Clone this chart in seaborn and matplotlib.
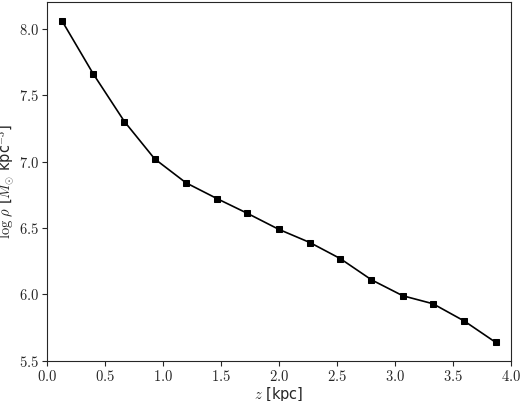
import matplotlib
matplotlib.use("Agg")
import matplotlib.pyplot as plt
from matplotlib.ticker import FuncFormatter, MultipleLocator
import seaborn as sns
import pandas as pd

z_kpc = [0.13, 0.40, 0.67, 0.93, 1.20, 1.47, 1.73, 2.00, 2.27, 2.53, 2.80, 3.07, 3.33, 3.60, 3.87]
log_rho = [8.06, 7.66, 7.30, 7.02, 6.84, 6.72, 6.61, 6.49, 6.39, 6.27, 6.11, 5.99, 5.93, 5.80, 5.64]

sns.set_style("ticks")
plt.rcParams['font.family'] = ['DejaVu Sans']
plt.rcParams['mathtext.fontset'] = 'cm'

df = pd.DataFrame({"z": z_kpc, "rho": log_rho})
fig, ax = plt.subplots(figsize=(5.2, 4.01), dpi=100)
sns.lineplot(data=df, x="z", y="rho", color="black", marker="s", markersize=5,
             markeredgecolor="black", linewidth=1.2, ax=ax)
ax.set_xlim(0, 4.0)
ax.set_ylim(5.5, 8.2)
ax.xaxis.set_major_locator(MultipleLocator(0.5))
ax.yaxis.set_major_locator(MultipleLocator(0.5))
fmt = FuncFormatter(lambda v, p: f"${v:.1f}$")
ax.xaxis.set_major_formatter(fmt)
ax.yaxis.set_major_formatter(fmt)
ax.tick_params(direction="out", labelsize=10.5, pad=2, length=3.5)
ax.set_xlabel(r"$z$ [kpc]", fontsize=10.5, labelpad=1)
ax.set_ylabel(r"$\log\,\rho$ [$M_{\odot}$ kpc$^{-3}$]", fontsize=10.5, labelpad=2)
fig.subplots_adjust(left=0.09, right=0.982, top=0.995, bottom=0.1)
fig.savefig("out.png", dpi=100)
